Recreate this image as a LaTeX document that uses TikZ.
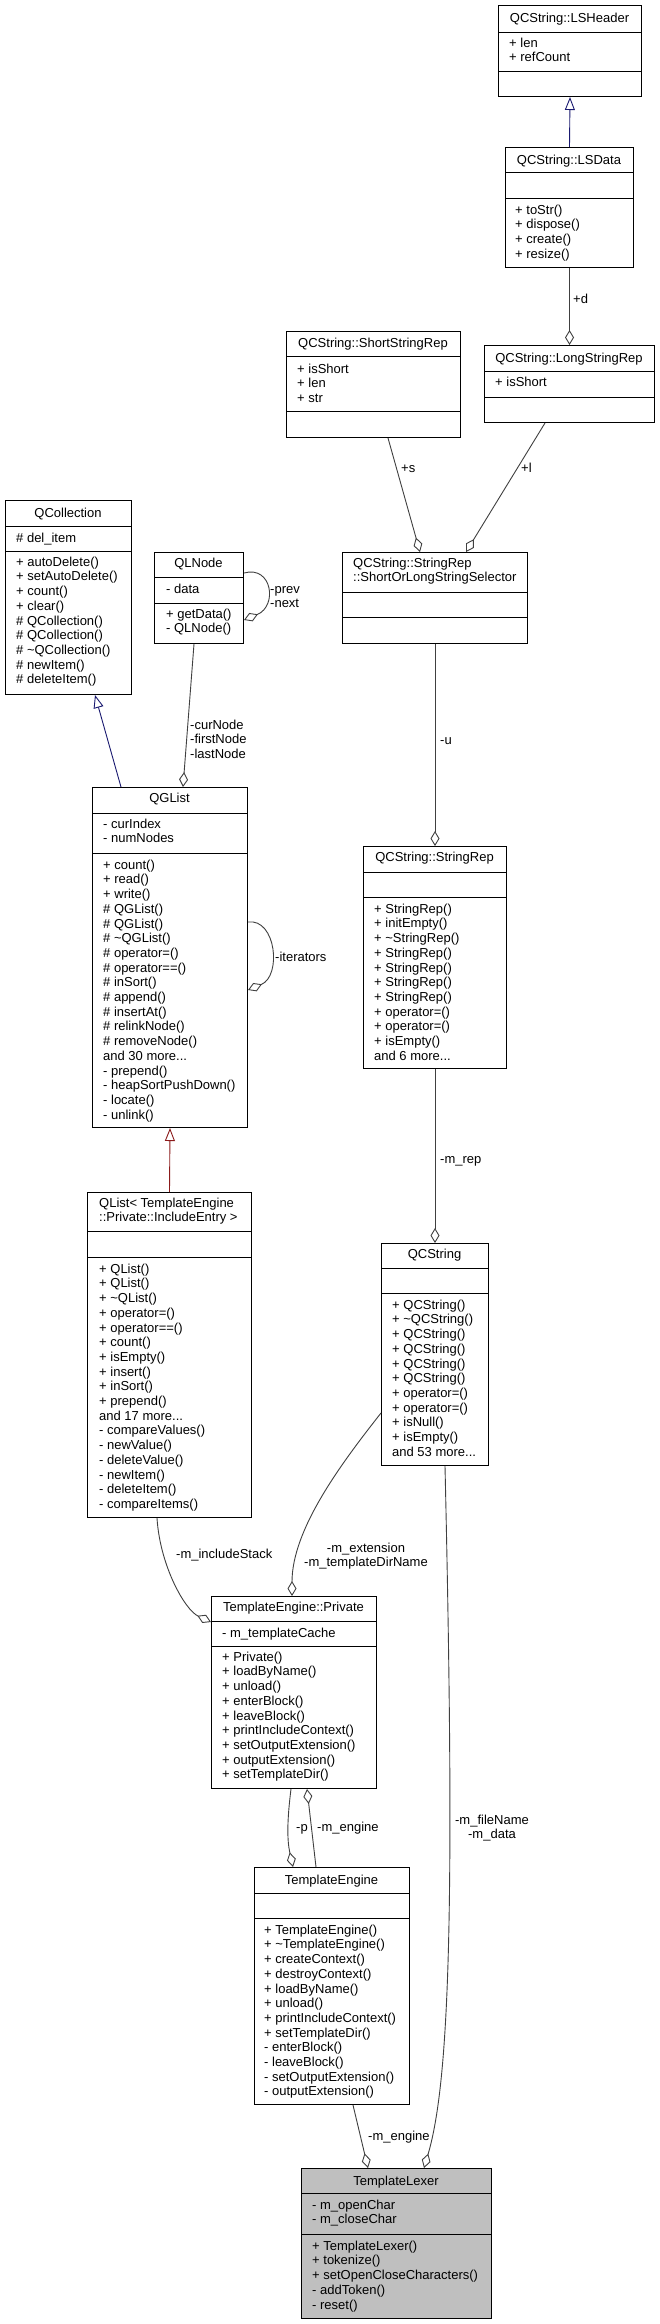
\documentclass[tikz,border=0pt]{standalone}
\usepackage{fontspec}
\setmainfont{Liberation Sans}
\usetikzlibrary{arrows.meta}
\definecolor{edgec}{HTML}{404040}
\definecolor{inhblue}{HTML}{191970}
\definecolor{inhred}{HTML}{8B1A1A}
\definecolor{lexfill}{HTML}{BFBFBF}
\tikzset{
  box/.style={draw=black, line width=1pt, rectangle, inner sep=0pt},
  sepline/.style={draw=black, line width=1pt},
  txt/.style={font=\fontsize{13}{14.7}\selectfont, inner sep=0pt, align=left, anchor=north west, text=black},
  ctxt/.style={font=\fontsize{13}{14.7}\selectfont, inner sep=0pt, align=center, anchor=north, text=black},
  ttl/.style={font=\fontsize{13}{14.7}\selectfont, inner sep=0pt, anchor=base, text=black},
  agg/.style={draw=edgec, line width=0.9pt, -{Diamond[open, length=15pt, width=9pt, line width=0.9pt]}},
  inhb/.style={draw=inhblue, line width=0.9pt, -{Triangle[open, length=13pt, width=10pt, line width=0.9pt]}},
  inhr/.style={draw=inhred, line width=0.9pt, -{Triangle[open, length=13pt, width=10pt, line width=0.9pt]}}
}
% box: [fill]{name}{left}{top}{right}{sep1}{sep2}{bottom}
\newcommand\cbox[8][white]{%
  \node[box, fill=#1, minimum width=#5pt-#3pt, minimum height=#8pt-#4pt, anchor=north west] (#2) at (#3,#4) {};
  \draw[sepline] (#3,#6) -- (#5,#6);
  \draw[sepline] (#3,#7) -- (#5,#7);
}
% left aligned text block: {name}{x}{first line center y}{lines}
\newcommand\mtext[4]{\node[txt] (#1) at (#2,#3-6.3) {\strut #4};}
% centered text block
\newcommand\ctext[4]{\node[ctxt] (#1) at (#2,#3-6.3) {\strut #4};}
% single line title centered: {name}{cx}{cy}{text}
\newcommand\ttext[4]{\node[ttl] (#1) at (#2,#3+4.4) {#4};}
\begin{document}
\begin{tikzpicture}[x=1pt,y=-1pt]
\fill[white] (0,0) rectangle (660,2324);
\useasboundingbox (0,0) rectangle (660,2324);

% ---------- boxes ----------
\cbox{lsh}{498}{5}{641}{32}{71}{96}
\ttext{lsht}{569.5}{18.5}{QCString::LSHeader}
\mtext{lsha}{509}{43}{+ len\\+ refCount}

\cbox{lsd}{505}{147}{633}{172}{198}{267}
\ttext{lsdt}{569}{160}{QCString::LSData}
\mtext{lsdm}{515}{210}{+ toStr()\\+ dispose()\\+ create()\\+ resize()}

\cbox{lsr}{484}{345}{654}{371}{397}{422}
\ttext{lsrt}{569}{358}{QCString::LongStringRep}
\mtext{lsra}{495}{382}{+ isShort}

\cbox{ssr}{286}{331}{460}{356}{411}{437}
\ttext{ssrt}{373}{343}{QCString::ShortStringRep}
\mtext{ssra}{297}{369}{+ isShort\\+ len\\+ str}

\cbox{sel}{342}{552}{527}{592}{617}{643}
\mtext{selt}{353}{563}{QCString::StringRep\\::ShortOrLongStringSelector}

\cbox{qcol}{5}{500}{131}{526}{551}{694}
\ttext{qcolt}{68}{513}{QCollection}
\mtext{qcola}{16}{538}{\# del\_item}
\mtext{qcolm}{16}{562}{+ autoDelete()\\+ setAutoDelete()\\+ count()\\+ clear()\\\# QCollection()\\\# QCollection()\\\# \textasciitilde QCollection()\\\# newItem()\\\# deleteItem()}

\cbox{qln}{154}{552}{243}{577}{603}{643}
\ttext{qlnt}{198.5}{563}{QLNode}
\mtext{qlna}{166}{589}{- data}
\mtext{qlnm}{166}{614}{+ getData()\\- QLNode()}

\cbox{qgl}{92}{787}{247}{813}{853}{1127}
\ttext{qglt}{169.5}{798}{QGList}
\mtext{qgla}{103}{824}{- curIndex\\- numNodes}
\mtext{qglm}{103}{865}{+ count()\\+ read()\\+ write()\\\# QGList()\\\# QGList()\\\# \textasciitilde QGList()\\\# operator=()\\\# operator==()\\\# inSort()\\\# append()\\\# insertAt()\\\# relinkNode()\\\# removeNode()\\and 30 more...\\- prepend()\\- heapSortPushDown()\\- locate()\\- unlink()}

\cbox{qlist}{87}{1192}{251}{1231}{1257}{1517}
\mtext{qlistt}{99}{1203}{QList< TemplateEngine\\::Private::IncludeEntry >}
\mtext{qlistm}{99}{1269}{+ QList()\\+ QList()\\+ \textasciitilde QList()\\+ operator=()\\+ operator==()\\+ count()\\+ isEmpty()\\+ insert()\\+ inSort()\\+ prepend()\\and 17 more...\\- compareValues()\\- newValue()\\- deleteValue()\\- newItem()\\- deleteItem()\\- compareItems()}

\cbox{srep}{363}{846}{506}{872}{897}{1068}
\ttext{srept}{434.5}{857}{QCString::StringRep}
\mtext{srepm}{374}{909}{+ StringRep()\\+ initEmpty()\\+ \textasciitilde StringRep()\\+ StringRep()\\+ StringRep()\\+ StringRep()\\+ StringRep()\\+ operator=()\\+ operator=()\\+ isEmpty()\\and 6 more...}

\cbox{qcs}{381}{1243}{488}{1268}{1293}{1465}
\ttext{qcst}{434.5}{1254}{QCString}
\mtext{qcsm}{392}{1305}{+ QCString()\\+ \textasciitilde QCString()\\+ QCString()\\+ QCString()\\+ QCString()\\+ QCString()\\+ operator=()\\+ operator=()\\+ isNull()\\+ isEmpty()\\and 53 more...}

\cbox{priv}{211}{1596}{376}{1621}{1646}{1788}
\ttext{privt}{293.5}{1607}{TemplateEngine::Private}
\mtext{priva}{222}{1633}{- m\_templateCache}
\mtext{privm}{222}{1657}{+ Private()\\+ loadByName()\\+ unload()\\+ enterBlock()\\+ leaveBlock()\\+ printIncludeContext()\\+ setOutputExtension()\\+ outputExtension()\\+ setTemplateDir()}

\cbox{te}{254}{1867}{409}{1893}{1918}{2104}
\ttext{tet}{331.5}{1880}{TemplateEngine}
\mtext{tem}{264}{1930}{+ TemplateEngine()\\+ \textasciitilde TemplateEngine()\\+ createContext()\\+ destroyContext()\\+ loadByName()\\+ unload()\\+ printIncludeContext()\\+ setTemplateDir()\\- enterBlock()\\- leaveBlock()\\- setOutputExtension()\\- outputExtension()}

\cbox[lexfill]{tl}{301}{2168}{491}{2193}{2234}{2318}
\ttext{tlt}{396}{2181}{TemplateLexer}
\mtext{tla}{312}{2205}{- m\_openChar\\- m\_closeChar}
\mtext{tlm}{312}{2246}{+ TemplateLexer()\\+ tokenize()\\+ setOpenCloseCharacters()\\- addToken()\\- reset()}

% ---------- connectors ----------
\draw[inhb] (lsd.north) -- (lsh.south);
\draw[agg] (lsd.south) -- (lsr.north);
\draw[agg] ([xshift=102pt]ssr.south west) -- ([xshift=78pt]sel.north west);
\draw[agg] ([xshift=61pt]lsr.south west) -- ([xshift=124pt]sel.north west);
\draw[agg] (sel.south) -- (srep.north);
\draw[agg] (srep.south) -- (qcs.north);
\draw[inhb] ([xshift=29pt]qgl.north west) -- ([xshift=90pt]qcol.south west);
\draw[agg] ([xshift=40pt]qln.south west) -- ([xshift=91pt]qgl.north west);
\draw[agg] ([yshift=-21pt]qln.north east) .. controls +(28,-8) and +(34,-14) .. ([yshift=-68pt]qln.north east);
\draw[agg] ([yshift=-135pt]qgl.north east) .. controls +(28,-4) and +(34,-14) .. ([yshift=-203pt]qgl.north east);
\draw[inhr] (qlist.north) -- (qgl.south);
\draw[agg] ([xshift=70pt]qlist.south west) .. controls +(3,48) and +(-26,-12) .. ([yshift=-26pt]priv.north west);
\draw[agg] ([yshift=-170pt]qcs.north west) .. controls +(-41,52) and +(0,-66) .. ([xshift=81pt]priv.north west);
\draw[agg] ([xshift=80pt]priv.south west) .. controls +(-4,32) and +(-6,-27) .. ([xshift=39pt]te.north west);
\draw[agg] ([xshift=62pt]te.north west) -- ([xshift=96pt]priv.south west);
\draw[agg] ([xshift=99pt]te.south west) -- ([xshift=67pt]tl.north west);
\draw[agg] ([xshift=64pt]qcs.south west) .. controls +(10,435) and +(26,-88) .. ([xshift=123pt]tl.north west);

% ---------- labels ----------
\mtext{lbd}{573}{299}{+d}
\mtext{lbs}{401}{468}{+s}
\mtext{lbl}{521}{468}{+l}
\mtext{lbu}{440}{740}{-u}
\mtext{lbrep}{440}{1159}{-m\_rep}
\mtext{lbpn}{270}{589}{-prev\\-next}
\mtext{lbnodes}{190}{725}{-curNode\\-firstNode\\-lastNode}
\mtext{lbit}{275}{957}{-iterators}
\mtext{lbinc}{176}{1554}{-m\_includeStack}
\ctext{lbext}{366}{1548}{-m\_extension\\-m\_templateDirName}
\mtext{lbp}{296}{1827}{-p}
\mtext{lbeng}{317}{1827}{-m\_engine}
\mtext{lbeng2}{368}{2136}{-m\_engine}
\ctext{lbfile}{492}{1820}{-m\_fileName\\-m\_data}
\end{tikzpicture}
\end{document}
